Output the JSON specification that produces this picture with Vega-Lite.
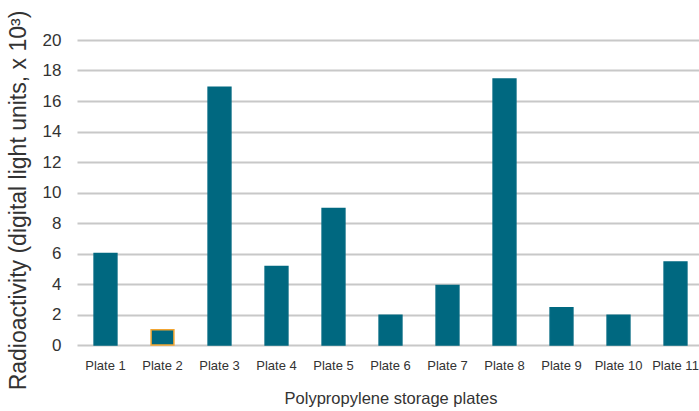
{
  "$schema": "https://vega.github.io/schema/vega-lite/v6.json",
  "autosize": "none",
  "padding": {"left": 77, "top": 40, "right": 0, "bottom": 66},
  "width": 627,
  "height": 305,
  "background": "white",
  "data": {"values": [
    {"plate": "Plate 1", "value": 6, "highlight": "no"},
    {"plate": "Plate 2", "value": 1, "highlight": "yes"},
    {"plate": "Plate 3", "value": 16.9, "highlight": "no"},
    {"plate": "Plate 4", "value": 5.15, "highlight": "no"},
    {"plate": "Plate 5", "value": 8.95, "highlight": "no"},
    {"plate": "Plate 6", "value": 1.95, "highlight": "no"},
    {"plate": "Plate 7", "value": 3.9, "highlight": "no"},
    {"plate": "Plate 8", "value": 17.45, "highlight": "no"},
    {"plate": "Plate 9", "value": 2.45, "highlight": "no"},
    {"plate": "Plate 10", "value": 1.95, "highlight": "no"},
    {"plate": "Plate 11", "value": 5.45, "highlight": "no"}
  ]},
  "config": {
    "view": {"stroke": null},
    "font": "Liberation Sans"
  },
  "mark": {"type": "bar", "color": "#006880", "strokeWidth": 1.5},
  "encoding": {
    "x": {
      "field": "plate", "type": "nominal", "sort": null,
      "scale": {"paddingInner": 0.6, "paddingOuter": 0.3},
      "axis": {
        "title": "Polypropylene storage plates",
        "titleFontSize": 16.5, "titleFontWeight": "normal", "titleColor": "#333333", "titlePadding": 18,
        "labelAngle": 0, "labelFontSize": 13, "labelFontWeight": "normal", "labelColor": "#333333", "labelPadding": 14,
        "ticks": false, "domain": false
      }
    },
    "y": {
      "field": "value", "type": "quantitative",
      "scale": {"domain": [0, 20]},
      "axis": {
        "title": "Radioactivity (digital light units, x 10³)",
        "titleFontSize": 23, "titleFontWeight": "normal", "titleColor": "#333333", "titlePadding": 12,
        "titleY": 160,
        "values": [0, 2, 4, 6, 8, 10, 12, 14, 16, 18, 20],
        "labelFontSize": 17, "labelFontWeight": "normal", "labelColor": "#333333", "labelPadding": 16,
        "ticks": false, "domain": false,
        "grid": true, "gridColor": "#c8c8c8", "gridWidth": 2
      }
    },
    "stroke": {
      "field": "highlight", "type": "nominal",
      "scale": {"domain": ["no", "yes"], "range": ["#006880", "#f2a531"]},
      "legend": null
    }
  }
}
